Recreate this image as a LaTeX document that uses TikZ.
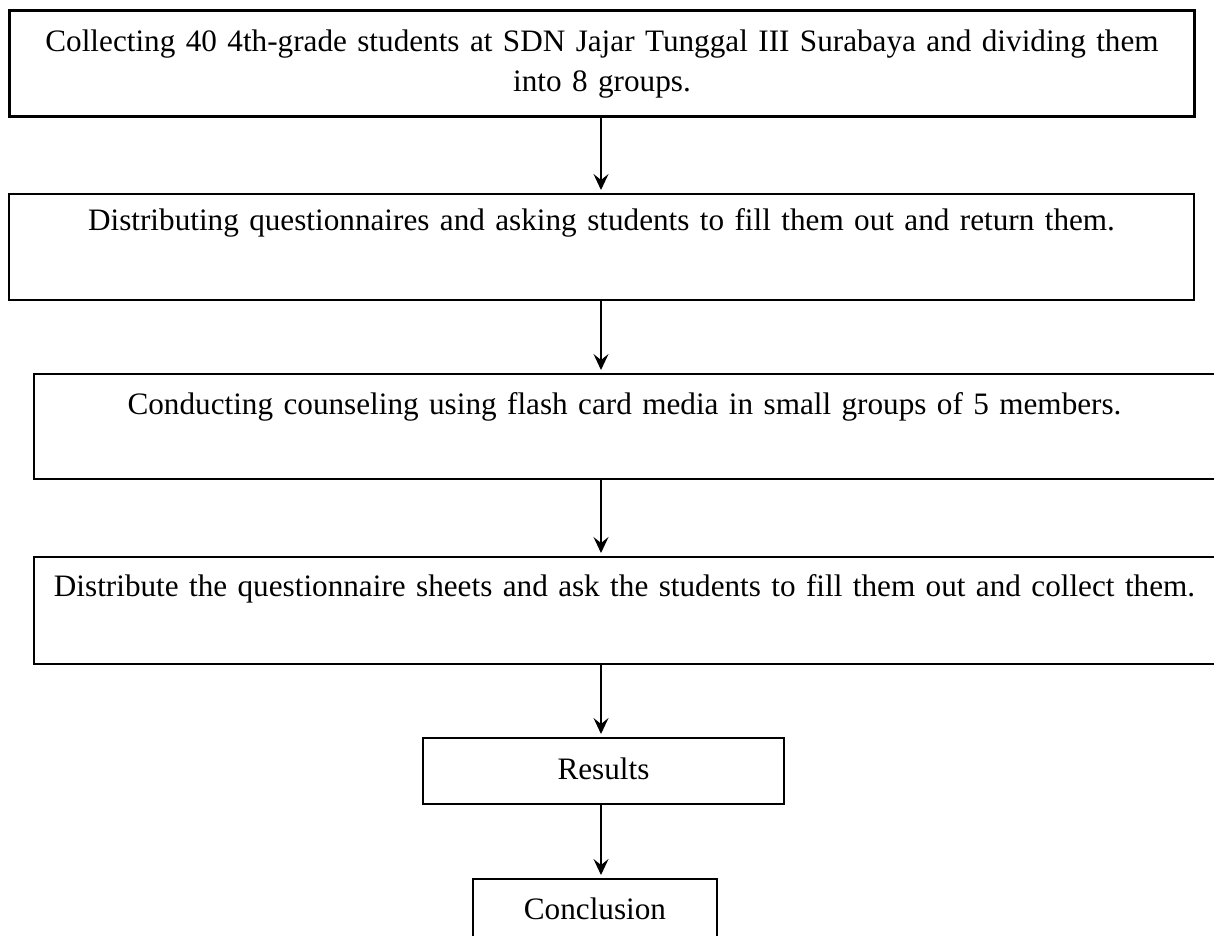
\documentclass[tikz,border=0pt]{standalone}
\usepackage{fontspec}
\setmainfont{Liberation Serif}
\usetikzlibrary{arrows.meta}
\tikzset{
  stepbox/.style={draw=black, line width=2pt, inner sep=0pt, anchor=north west, align=center,
    font=\fontsize{31.2}{40}\selectfont},
  arr/.style={line width=2pt, shorten >=3pt, -{Stealth[length=16pt,width=15pt,inset=6pt]}}
}
\begin{document}
\begin{tikzpicture}[x=1pt,y=-1pt]
\useasboundingbox (0,0) rectangle (1214,935);
\node[stepbox, line width=3pt, text width=1185pt, text height=41pt, text depth=65pt] (b1) at (8,9)
  {Collecting 40 4th-grade students at SDN Jajar Tunggal III Surabaya and dividing them\\into 8 groups.};
\node[stepbox, text width=1185pt, text height=36pt, text depth=70pt] (b2) at (8,193)
  {Distributing questionnaires and asking students to fill them out and return them.};
\node[stepbox, text width=1181pt, text height=40pt, text depth=65pt] (b3) at (33,373)
  {Conducting counseling using flash card media in small groups of 5 members.};
\node[stepbox, text width=1181pt, text height=39pt, text depth=68pt] (b4) at (33,556)
  {Distribute the questionnaire sheets and ask the students to fill them out and collect them.};
\node[stepbox, text width=361pt, text height=41pt, text depth=25pt] (b5) at (422,737)
  {Results};
\node[stepbox, text width=244pt, text height=40pt, text depth=30pt] (b6) at (472,878)
  {Conclusion};
\coordinate (ax) at (601,0);
\draw[arr] (b1.south -| ax) -- (b2.north -| ax);
\draw[arr] (b2.south -| ax) -- (b3.north -| ax);
\draw[arr] (b3.south -| ax) -- (b4.north -| ax);
\draw[arr] (b4.south -| ax) -- (b5.north -| ax);
\draw[arr] (b5.south -| ax) -- (b6.north -| ax);
\end{tikzpicture}
\end{document}
